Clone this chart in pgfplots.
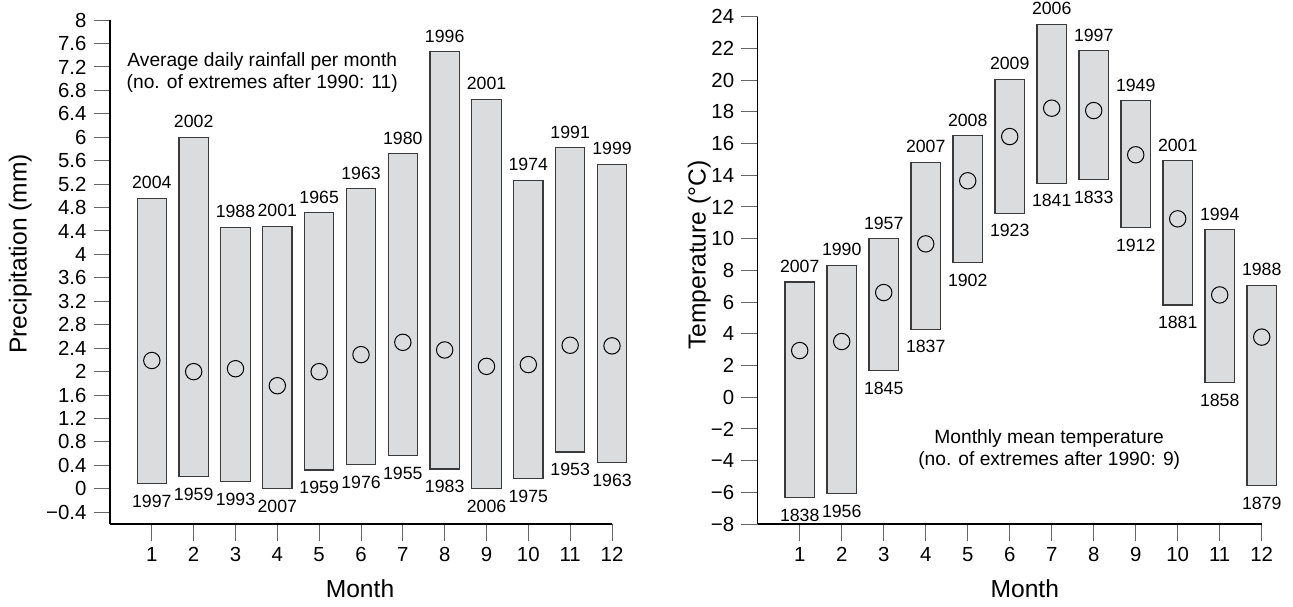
\documentclass[border=0pt]{standalone}
\usepackage{fontspec}
\setmainfont{Liberation Sans}
\usepackage{pgfplots}
\usepackage{pgfplotstable}
\pgfplotsset{compat=1.18}
\definecolor{barfill}{HTML}{DBDCDE}
\definecolor{baredge}{HTML}{3A3A3A}
\newcommand\yrfont{\fontsize{8.85}{10}\selectfont}
\newcommand\tkfont{\fontsize{10.2}{12}\selectfont}
\newcommand\lblfont{\fontsize{12.3}{14}\selectfont}
\newcommand\annfont{\fontsize{9.6}{10.9}\selectfont}

\pgfplotstableread{
m top bot mean ty by
1 4.96 0.085 2.19 2004 1997
2 6.00 0.21 2.00 2002 1959
3 4.46 0.13 2.05 1988 1993
4 4.48 0.00 1.76 2001 2007
5 4.71 0.32 2.00 1965 1959
6 5.12 0.41 2.29 1963 1976
7 5.72 0.57 2.50 1980 1955
8 7.46 0.34 2.37 1996 1983
9 6.65 0.00 2.09 2001 2006
10 5.26 0.17 2.12 1974 1975
11 5.82 0.63 2.45 1991 1953
12 5.54 0.45 2.44 1999 1963
}\precip

\pgfplotstableread{
m top bot mean ty by
1 7.26 -6.31 2.94 2007 1838
2 8.30 -6.06 3.51 1990 1956
3 10.00 1.70 6.60 1957 1845
4 14.80 4.29 9.67 2007 1837
5 16.49 8.49 13.65 2008 1902
6 20.06 11.61 16.44 2009 1923
7 23.53 13.50 18.23 2006 1841
8 21.85 13.71 18.08 1997 1833
9 18.69 10.70 15.29 1949 1912
10 14.91 5.82 11.25 2001 1881
11 10.56 0.92 6.45 1994 1858
12 7.04 -5.58 3.79 1988 1879
}\temp

\pgfplotsset{
  common/.style={
    scale only axis,
    anchor=south west,
    axis lines=left,
    axis line style={-, line width=0.65pt, black},
    tick align=outside,
    major tick length=8.25pt,
    tick style={draw=black!60, line width=0.5pt},
    xmin=0, xmax=12,
    xtick={1,2,3,4,5,6,7,8,9,10,11,12},
    xticklabels={1,2,3,4,5,6,7,8,9,10,11,12},
    tick label style={font=\tkfont},
    clip=false,
    xlabel={Month},
    label style={font=\lblfont},
  },
  lowbar/.style={ybar, stack plots=y, bar width=0.7, bar shift=0pt, draw=none, fill=none},
  highbar/.style={ybar, stack plots=y, bar width=0.7, bar shift=0pt, fill=barfill, draw=baredge, line width=0.6pt},
  meanmark/.style={only marks, mark=o, mark size=4.1pt, mark options={draw=black, line width=0.5pt}},
  toplab/.style={draw=none, mark=none, nodes near coords, point meta=explicit symbolic,
     every node near coord/.append style={anchor=base, yshift=4.8pt, font=\yrfont, inner sep=0pt, text=black}},
  botlab/.style={draw=none, mark=none, nodes near coords, point meta=explicit symbolic,
     every node near coord/.append style={anchor=base, yshift=-11.9pt, font=\yrfont, inner sep=0pt, text=black}},
}

\begin{document}
\begin{tikzpicture}
\path[use as bounding box] (0,0) rectangle (646.5pt,303pt);
\begin{axis}[common,
  at={(55pt,41pt)},
  width=251pt, height=252pt,
  ymin=-0.6, ymax=8,
  ytick={-0.4,0,0.4,0.8,1.2,1.6,2,2.4,2.8,3.2,3.6,4,4.4,4.8,5.2,5.6,6,6.4,6.8,7.2,7.6,8},
  yticklabels={−0.4,0,0.4,0.8,1.2,1.6,2,2.4,2.8,3.2,3.6,4,4.4,4.8,5.2,5.6,6,6.4,6.8,7.2,7.6,8},
  ylabel={Precipitation (mm)},
  xlabel style={at={(axis description cs:0.498,-0.129)}, anchor=center},
  ylabel style={at={(axis description cs:-0.179,0.536)}, anchor=center},
]
\addplot[lowbar] table[x=m, y=bot] {\precip};
\addplot[highbar] table[x=m, y expr=\thisrow{top}-\thisrow{bot}] {\precip};
\addplot[meanmark] table[x=m, y=mean] {\precip};
\addplot[toplab] table[x=m, y=top, meta=ty] {\precip};
\addplot[botlab] table[x=m, y=bot, meta=by] {\precip};
\node[align=center, font=\annfont] at (axis cs:3.64,7.11) {Average daily rainfall per month\\(no. of extremes after 1990: 11)};
\end{axis}

\begin{axis}[common,
  at={(378.85pt,41pt)},
  width=252pt, height=253.65pt,
  ymin=-8, ymax=24,
  ytick={-8,-6,-4,-2,0,2,4,6,8,10,12,14,16,18,20,22,24},
  yticklabels={−8,−6,−4,−2,0,2,4,6,8,10,12,14,16,18,20,22,24},
  ylabel={Temperature (°C)},
  xlabel style={at={(axis description cs:0.530,-0.128)}, anchor=center},
  ylabel style={at={(axis description cs:-0.116,0.530)}, anchor=center},
]
\addplot[lowbar] table[x=m, y=bot] {\temp};
\addplot[highbar] table[x=m, y expr=\thisrow{top}-\thisrow{bot}] {\temp};
\addplot[meanmark] table[x=m, y=mean] {\temp};
\addplot[toplab] table[x=m, y=top, meta=ty] {\temp};
\addplot[botlab] table[x=m, y=bot, meta=by] {\temp};
\node[align=center, font=\annfont] at (axis cs:6.94,-3.32) {Monthly mean temperature\\(no. of extremes after 1990: 9)};
\end{axis}
\end{tikzpicture}
\end{document}
